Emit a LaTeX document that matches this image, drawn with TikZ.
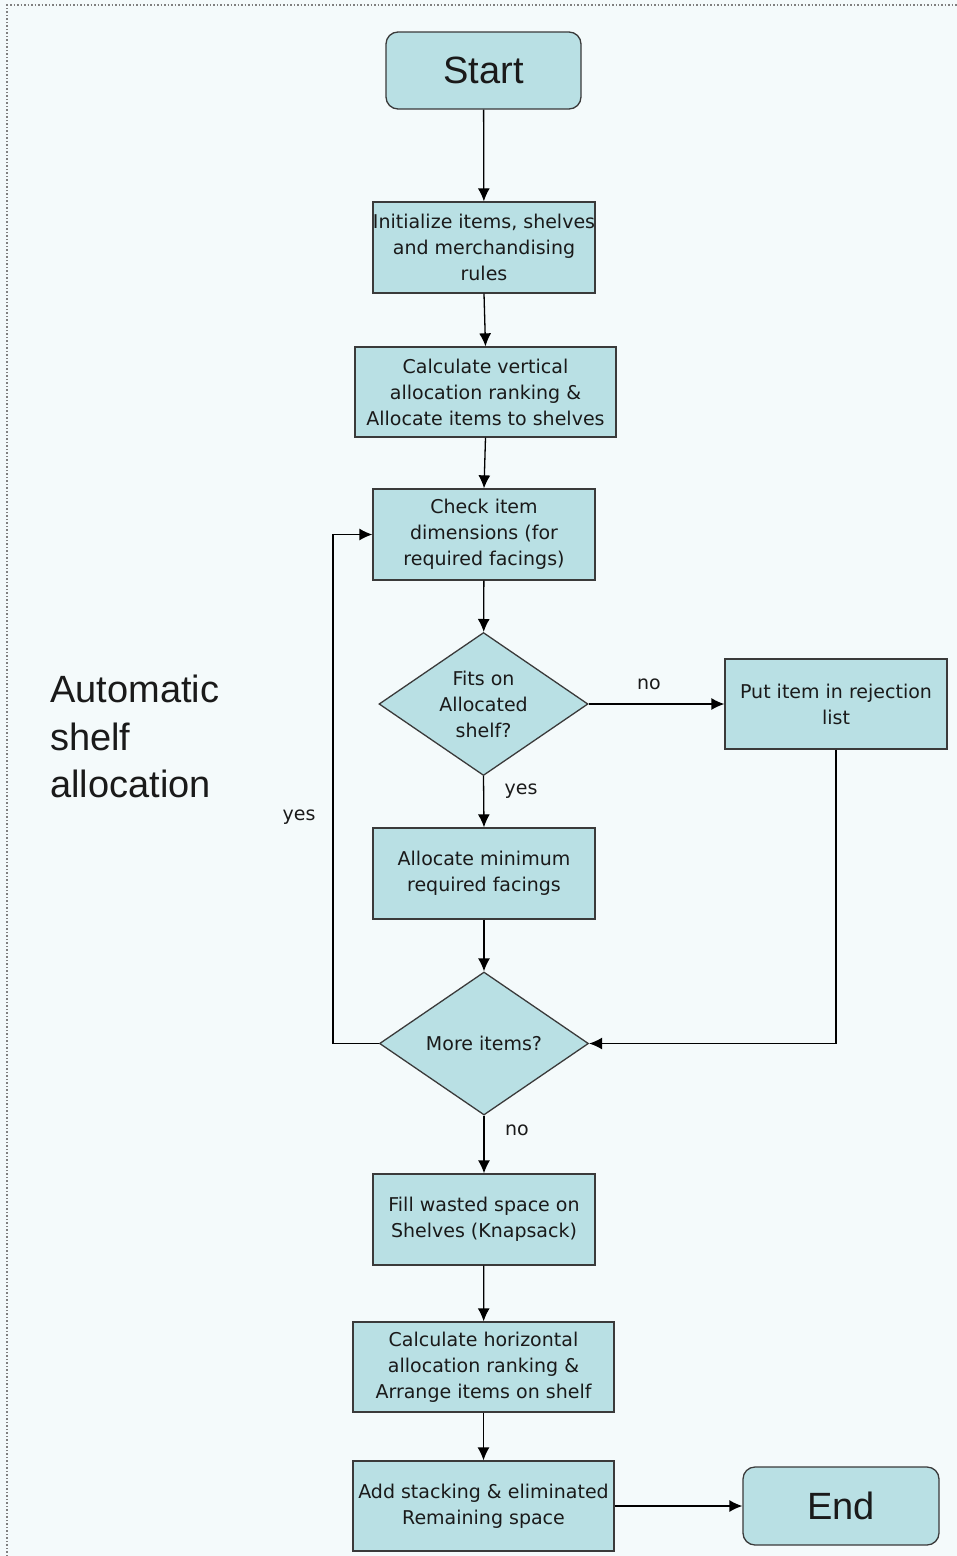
\documentclass[tikz,border=0pt]{standalone}
\usepackage{fontspec}
\setmainfont{DejaVu Sans}
\newfontfamily\bigfont{Liberation Sans}
\usetikzlibrary{shapes.geometric,arrows.meta}
\definecolor{pagebg}{HTML}{F4FAFB}
\definecolor{boxfill}{HTML}{B9E0E4}
\definecolor{boxline}{HTML}{3A3A3A}
\definecolor{ink}{HTML}{1A1A1A}
\begin{document}
\begin{tikzpicture}[x=1pt,y=-1pt,
  every node/.style={text=ink},
  terminal/.style={draw=boxline, fill=boxfill, line width=1.3pt, rounded corners=12pt,
    minimum width=195pt, minimum height=77pt, inner sep=0pt,
    font=\bigfont\fontsize{38}{44}\selectfont},
  procbox/.style={draw=boxline, fill=boxfill, line width=1.3pt,
    minimum width=222pt, minimum height=91pt, inner sep=0pt, align=center,
    font=\fontsize{19}{26}\selectfont},
  widebox/.style={procbox, minimum width=261pt, minimum height=90pt},
  decision/.style={draw=boxline, fill=boxfill, line width=1.3pt, diamond, aspect=1.46,
    minimum width=209pt, minimum height=143pt, inner sep=0pt, align=center,
    font=\fontsize{19}{26}\selectfont},
  flow/.style={draw=black, line width=1.3pt, -{Latex[length=13pt,width=12pt]}},
  tag/.style={font=\fontsize{19}{24}\selectfont, inner sep=0pt}
]
\useasboundingbox (0,0) rectangle (957,1556);
% page background with dotted frame on the top and left
\fill[pagebg] (0,0) rectangle (957,1556);
\draw[gray, dotted, line width=1.5pt] (7,1556) -- (7,5) -- (957,5);

% side title
\node[anchor=north west, align=left, inner sep=0pt, font=\bigfont\fontsize{38}{47.5}\selectfont]
  (title) at (50,675) {Automatic\\shelf\\allocation};

% flowchart nodes
\node[terminal] (start) at (483.5,70.5) {Start};
\node[procbox] (init) at (484,247.5) {Initialize items, shelves\\and merchandising\\rules};
\node[widebox] (vert) at (485.5,392) {Calculate vertical\\allocation ranking \&\\Allocate items to shelves};
\node[procbox] (check) at (484,534.5) {Check item\\dimensions (for\\required facings)};
\node[decision] (fits) at (483.5,704) {Fits on\\Allocated\\shelf?};
\node[procbox, minimum height=90pt] (reject) at (836,704) {Put item in rejection\\list};
\node[procbox] (minfac) at (484,873.5) {Allocate minimum\\required facings};
\node[decision] (more) at (484,1043.5) {More items?};
\node[procbox] (fill) at (484,1219.5) {Fill wasted space on\\Shelves (Knapsack)};
\node[widebox] (horiz) at (483.5,1367) {Calculate horizontal\\allocation ranking \&\\Arrange items on shelf};
\node[widebox] (stack) at (483.5,1506) {Add stacking \& eliminated\\Remaining space};
\node[terminal, minimum width=196pt, minimum height=78pt] (end) at (841,1506) {End};

% connectors
\draw[flow] (start) -- (init);
\draw[flow] (init.south) -- (vert.north);
\draw[flow] (vert.south) -- (check.north);
\draw[flow] (check) -- (fits);
\draw[flow] (fits.east) -- (reject.west);
\draw[flow] (fits.south) -- (minfac.north);
\draw[flow] (minfac) -- (more);
\draw[flow] (more.west) -- ++(-46,0) |- (check.west);
\draw[flow] (reject.south) |- (more.east);
\draw[flow] (more.south) -- (fill.north);
\draw[flow] (fill) -- (horiz);
\draw[flow] (horiz) -- (stack);
\draw[flow] (stack.east) -- (end.west);

% branch labels
\node[tag] (lno1) at (649,684) {no};
\node[tag] (lyes1) at (521,791) {yes};
\node[tag] (lyes2) at (299,817) {yes};
\node[tag] (lno2) at (517,1130) {no};
\end{tikzpicture}
\end{document}
